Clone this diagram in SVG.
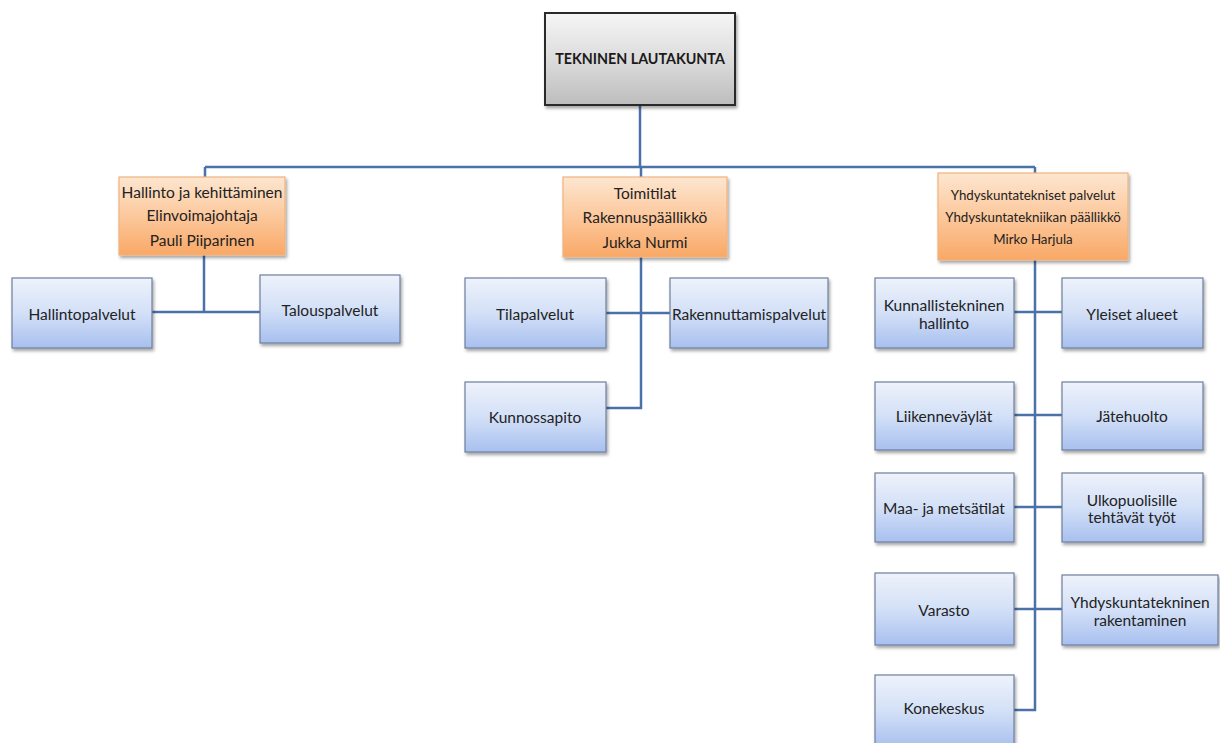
<svg xmlns="http://www.w3.org/2000/svg" width="1220" height="743" viewBox="0 0 1220 743">
<style>
text{font-family:Lato,"Liberation Sans",sans-serif;font-size:15.5px;fill:#222;text-anchor:middle;dominant-baseline:central}
.title{font-weight:bold;font-size:14.3px;fill:#1a1a1a}
.sm{font-size:13.3px}
.blue{fill:url(#gb);stroke:#6d7f9e;stroke-width:1.2}
.org{fill:url(#go);stroke:#f0b27f;stroke-width:1.2}
.gray{fill:url(#gg);stroke:#2b2b2b;stroke-width:2}
.c{fill:none;stroke:#4a72a8;stroke-width:2.5}
</style>
<defs>
<linearGradient id="gb" x1="0" y1="0" x2="0" y2="1"><stop offset="0" stop-color="#eef2fb"/><stop offset="0.5" stop-color="#d3e0f7"/><stop offset="1" stop-color="#a8c0ef"/></linearGradient>
<linearGradient id="go" x1="0" y1="0" x2="0" y2="1"><stop offset="0" stop-color="#fde6d0"/><stop offset="0.5" stop-color="#fcc89c"/><stop offset="1" stop-color="#f9a866"/></linearGradient>
<linearGradient id="gg" x1="0" y1="0" x2="0" y2="1"><stop offset="0" stop-color="#f6f6f6"/><stop offset="0.5" stop-color="#dcdcdc"/><stop offset="1" stop-color="#bdbdbd"/></linearGradient>
<filter id="sh" x="-10%" y="-10%" width="125%" height="130%"><feDropShadow dx="1.5" dy="2.5" stdDeviation="1.8" flood-color="#000" flood-opacity="0.35"/></filter>
</defs>
<g id="connectors">
<path class="c" d="M640 105V167M205 167H1035M205 167V177M641 167V177M1035 167V173"/>
<path class="c" d="M204 255V312M152 312H260"/>
<path class="c" d="M641 257V408H606M606 313H670"/>
<path class="c" d="M1035 260V710H1014M1014 312H1062M1014 415H1062M1014 507H1062M1014 609H1062"/>
</g>
<g id="n-lautakunta"><rect class="gray" x="545" y="13" width="190" height="92" filter="url(#sh)"/><text class="title" x="640" y="58">TEKNINEN LAUTAKUNTA</text></g>
<g id="n-hallinto"><rect class="org" x="119" y="177" width="166" height="78" filter="url(#sh)"/><text x="202" y="192">Hallinto ja kehittäminen</text><text x="202" y="215">Elinvoimajohtaja</text><text x="202" y="240">Pauli Piiparinen</text></g>
<g id="n-toimitilat"><rect class="org" x="563" y="177" width="164" height="80" filter="url(#sh)"/><text x="645" y="193">Toimitilat</text><text x="645" y="217">Rakennuspäällikkö</text><text x="645" y="242">Jukka Nurmi</text></g>
<g id="n-yhdyskunta"><rect class="org" x="938" y="173" width="190" height="87" filter="url(#sh)"/><text class="sm" x="1033" y="195">Yhdyskuntatekniset palvelut</text><text class="sm" x="1033" y="217">Yhdyskuntatekniikan päällikkö</text><text class="sm" x="1033" y="239">Mirko Harjula</text></g>
<g id="n-hallintopalvelut"><rect class="blue" x="12" y="278" width="140" height="70" filter="url(#sh)"/><text x="82" y="314">Hallintopalvelut</text></g>
<g id="n-talouspalvelut"><rect class="blue" x="260" y="275" width="140" height="68" filter="url(#sh)"/><text x="330" y="310">Talouspalvelut</text></g>
<g id="n-tilapalvelut"><rect class="blue" x="465" y="278" width="141" height="70" filter="url(#sh)"/><text x="535" y="314">Tilapalvelut</text></g>
<g id="n-rakennuttamispalvelut"><rect class="blue" x="670" y="278" width="158" height="70" filter="url(#sh)"/><text x="749" y="314">Rakennuttamispalvelut</text></g>
<g id="n-kunnossapito"><rect class="blue" x="465" y="382" width="141" height="70" filter="url(#sh)"/><text x="535" y="417">Kunnossapito</text></g>
<g id="n-kunnallistekninen"><rect class="blue" x="875" y="278" width="139" height="70" filter="url(#sh)"/><text x="944" y="305">Kunnallistekninen</text><text x="944" y="323">hallinto</text></g>
<g id="n-yleiset"><rect class="blue" x="1062" y="278" width="141" height="70" filter="url(#sh)"/><text x="1132" y="314">Yleiset alueet</text></g>
<g id="n-liikenne"><rect class="blue" x="875" y="382" width="139" height="68" filter="url(#sh)"/><text x="944" y="416">Liikenneväylät</text></g>
<g id="n-jatehuolto"><rect class="blue" x="1062" y="382" width="141" height="68" filter="url(#sh)"/><text x="1132" y="416">Jätehuolto</text></g>
<g id="n-maa"><rect class="blue" x="875" y="473" width="139" height="69" filter="url(#sh)"/><text x="944" y="508">Maa- ja metsätilat</text></g>
<g id="n-ulkopuolisille"><rect class="blue" x="1062" y="473" width="141" height="69" filter="url(#sh)"/><text x="1132" y="500">Ulkopuolisille</text><text x="1132" y="517">tehtävät työt</text></g>
<g id="n-varasto"><rect class="blue" x="875" y="573" width="139" height="72" filter="url(#sh)"/><text x="944" y="610">Varasto</text></g>
<g id="n-rakentaminen"><rect class="blue" x="1062" y="575" width="156" height="70" filter="url(#sh)"/><text x="1140" y="602">Yhdyskuntatekninen</text><text x="1140" y="620">rakentaminen</text></g>
<g id="n-konekeskus"><rect class="blue" x="875" y="675" width="139" height="72" filter="url(#sh)"/><text x="944" y="708">Konekeskus</text></g>
</svg>
